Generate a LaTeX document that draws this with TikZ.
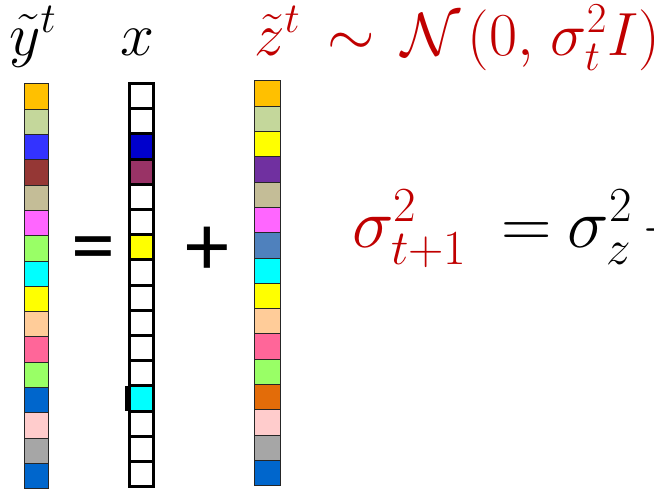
\RequirePackage{fix-cm}
\documentclass[tikz,border=0pt]{standalone}
\usepackage{fontspec}
\usepackage{xcolor}
\usetikzlibrary{positioning}
\newfontfamily\opfont{Carlito}
\definecolor{redtxt}{RGB}{192,0,0}
\definecolor{cgold}{HTML}{FFC000}
\definecolor{colive}{HTML}{C4D79B}
\definecolor{cblue}{HTML}{3333FF}
\definecolor{cmaroon}{HTML}{953735}
\definecolor{ctan}{HTML}{C4BD97}
\definecolor{cpink}{HTML}{FF66FF}
\definecolor{clime}{HTML}{99FF66}
\definecolor{ccyan}{HTML}{00FFFF}
\definecolor{cyellow}{HTML}{FFFF00}
\definecolor{cpeach}{HTML}{FFCC99}
\definecolor{crose}{HTML}{FF6699}
\definecolor{cocean}{HTML}{0066CC}
\definecolor{cblush}{HTML}{FFCCCC}
\definecolor{cgray}{HTML}{A6A6A6}
\definecolor{cnavy}{HTML}{0000CC}
\definecolor{cplum}{HTML}{993366}
\definecolor{cpurple}{HTML}{7030A0}
\definecolor{csteel}{HTML}{4F81BD}
\definecolor{corange}{HTML}{E36C09}
\tikzset{
  cell/.style={draw=black!85, line width=1pt, minimum width=24pt, minimum height=25.3pt,
               inner sep=0pt, outer sep=0pt},
  xcell/.style={cell, draw=black, line width=3pt, minimum width=24pt, minimum height=25.2pt},
  zcell/.style={cell, minimum width=26pt},
  lbl/.style={font=\fontsize{61}{66}\selectfont, inner sep=0pt, anchor=base west},
  eqn/.style={lbl, font=\fontsize{70}{76}\selectfont},
  op/.style={font=\opfont\fontsize{88}{88}\selectfont, inner sep=0pt, anchor=base}
}

\begin{document}
\begin{tikzpicture}[x=1pt, y=-1pt, node distance=0pt]
        \path[use as bounding box, clip] (0,0) rectangle (654,493);
        \foreach \c [count=\i, remember=\i as \j (initially 0)] in
            {cgold,colive,cblue,cmaroon,ctan,cpink,clime,ccyan,
             cyellow,cpeach,crose,clime,cocean,cblush,cgray,cocean}{
          \ifnum\i=1 \node[cell, fill=\c] (y1) at (36.5,96.6) {};
          \else \node[cell, fill=\c, below=of y\j] (y\i) {}; \fi
        }
        \foreach \c [count=\i, remember=\i as \j (initially 0)] in
            {white,white,cnavy,cplum,white,white,cyellow,white,
             white,white,white,white,ccyan,white,white,white}{
          \ifnum\i=1 \node[xcell, fill=\c] (x1) at (141.5,96.1) {};
          \else \node[xcell, fill=\c, below=of x\j] (x\i) {}; \fi
        }
        \foreach \c [count=\i, remember=\i as \j (initially 0)] in
            {cgold,colive,cyellow,cpurple,ctan,cpink,csteel,ccyan,
             cyellow,cpeach,crose,clime,corange,cblush,cgray,cocean}{
          \ifnum\i=1 \node[zcell, fill=\c] (z1) at (267.5,93.6) {};
          \else \node[zcell, fill=\c, below=of z\j] (z\i) {}; \fi
        }
        \fill ([xshift=-4.5pt]x13.north west) rectangle (x13.south west);
        \node[lbl] (ylbl) at (9,55) {$\tilde{y}^t$};
        \node[lbl] (xlbl) at (120,55) {$x$};
        \node[lbl, text=redtxt] (zlbl) at (254,55)
          {$\tilde{z}^t\mskip3mu\sim\mskip3mu\mathcal{N}\mskip2mu(0,\mskip2mu\sigma_t^2I)$};
        \node[op] (eq) at (93.5,274) {=};
        \node[op] (plus) at (207.5,275.5) {+};
        \node[eqn] (upd) at (352,247)
          {$\textcolor{redtxt}{\sigma_{t+1}^2}\mskip4mu=\mskip-1mu\sigma_z^2\mskip-1mu+{}$};
      \end{tikzpicture}
\end{document}
